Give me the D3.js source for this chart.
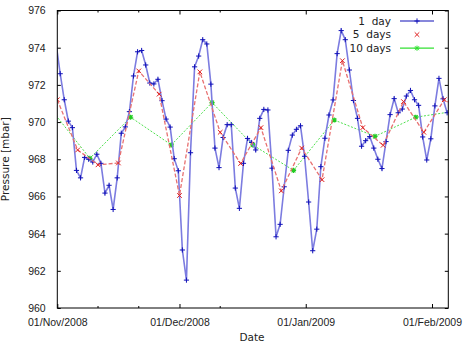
<!DOCTYPE html>
<html>
<head>
<meta charset="utf-8">
<script src="https://cdnjs.cloudflare.com/ajax/libs/d3/7.8.5/d3.min.js"></script>
<style>
  html, body { margin: 0; padding: 0; background: #fff; }
  svg { display: block; font-family: 'DejaVu Sans', sans-serif; }
  .tick text { fill: #222; font-size: 10.5px; }
</style>
</head>
<body>
<svg id="chart" width="463" height="344"></svg>
<script>
(function () {
  'use strict';

  // daily readings (first one is just before the axis start, clipped)
  const oneDayStart = new Date(2008, 9, 31, 17);
  const oneDayValues = [
    974.2, 972.6, 971.2, 970.05, 969.7, 967.4, 967.0, 968.1, 968.0, 967.85,
    968.27, 967.78, 966.18, 966.6, 965.3, 967.0, 969.4, 969.74, 970.56, 972.48,
    973.78, 973.85, 973.07, 972.1, 972.05, 972.3, 971.15, 970.16, 969.73, 968.03,
    967.38, 963.12, 961.5, 968.35, 972.97, 973.55, 974.43, 974.2, 972.04, 968.6,
    967.55, 969.17, 969.86, 969.86, 966.45, 965.36, 967.78, 969.12, 968.9, 968.5,
    970.2, 970.68, 970.65, 967.52, 963.83, 964.5, 966.52, 968.48, 969.3, 969.61,
    969.8, 968.16, 965.7, 963.08, 964.24, 967.6, 969.13, 970.38, 971.19, 973.68,
    974.92, 974.43, 972.8, 971.16, 970.2, 968.7, 969.0, 969.22, 968.6, 968.0,
    967.5, 968.95, 970.4, 971.26, 970.5, 970.7, 971.4, 971.7, 971.2, 970.9,
    969.2, 967.96, 969.1, 970.87, 972.35, 971.25, 970.5
  ];

  const fiveDayStart = new Date(2008, 10, 1);
  const fiveDayValues = [
    971.2, 968.5, 967.7, 967.8, 972.75, 971.5, 966.05, 972.7, 969.45, 967.77,
    969.7, 966.3, 968.6, 966.9, 973.3, 969.7, 968.75, 971.1, 969.45, 971.2, 970.6
  ];

  const tenDayStart = new Date(2008, 9, 30);
  const tenDayValues = [
    970.82, 968.05, 970.26, 968.77, 971.05, 968.77, 967.4, 970.11, 969.23, 970.26, 970.6
  ];

  const xDomain = [new Date(2008, 10, 1), new Date(2009, 1, 5)];
  const yDomain = [960, 976];
  const yTicks = [960, 962, 964, 966, 968, 970, 972, 974, 976];
  const xMajorTicks = [new Date(2008, 10, 1), new Date(2008, 11, 1), new Date(2009, 0, 1), new Date(2009, 1, 1)];
  const xMinorTicks = [new Date(2008, 10, 11), new Date(2008, 10, 21), new Date(2008, 11, 11)];

  const legendLabels = ['1  day', '5  days', '10 days'];

  const svg = d3.select('#chart');
  const left = 57.3, right = 448.3, top = 10.5, bottom = 308;

  const x = d3.scaleTime().domain(xDomain).range([left, right]);
  const y = d3.scaleLinear().domain(yDomain).range([bottom, top]);

  const toSeries = (start, stepHours, values) =>
    values.map((v, i) => ({ date: d3.timeHour.offset(start, i * stepHours), value: v }));

  const oneDay = toSeries(oneDayStart, 24, oneDayValues);
  const fiveDay = toSeries(fiveDayStart, 120, fiveDayValues);
  const tenDay = toSeries(tenDayStart, 240, tenDayValues);

  const plusPath = (s) => `M${-s},0H${s}M0,${-s}V${s}`;
  const crossPath = (s) => `M${-s},${-s}L${s},${s}M${-s},${s}L${s},${-s}`;
  const starPath = (s) => plusPath(s) + crossPath(s * 0.75);

  svg.append('defs').append('clipPath').attr('id', 'plot-clip')
    .append('rect')
    .attr('x', left).attr('y', top)
    .attr('width', right - left).attr('height', bottom - top);

  // axes: labelled bottom/left, mirrored ticks top/right
  const bottomAxis = d3.axisBottom(x).tickValues(xMajorTicks)
    .tickFormat(d3.timeFormat('%d/%b/%Y'))
    .tickSizeInner(-4).tickSizeOuter(0).tickPadding(10.5);
  const topAxis = d3.axisTop(x).tickValues(xMajorTicks)
    .tickFormat('').tickSizeInner(-4).tickSizeOuter(0);
  const leftAxis = d3.axisLeft(y).tickValues(yTicks)
    .tickFormat(d3.format('d'))
    .tickSizeInner(-3.5).tickSizeOuter(0).tickPadding(11.6);
  const rightAxis = d3.axisRight(y).tickValues(yTicks)
    .tickFormat('').tickSizeInner(-3.5).tickSizeOuter(0);

  const axes = [
    [bottomAxis, `translate(0,${bottom})`],
    [topAxis, `translate(0,${top})`],
    [leftAxis, `translate(${left},0)`],
    [rightAxis, `translate(${right},0)`]
  ];
  axes.forEach(([axis, transform]) => {
    const g = svg.append('g').attr('transform', transform).call(axis);
    g.select('.domain').remove();
    g.selectAll('.tick line').attr('stroke', '#000');
  });

  // minor x ticks
  [[bottom, -2], [top, 2]].forEach(([yPos, len]) => {
    svg.append('g').selectAll('line')
      .data(xMinorTicks)
      .join('line')
      .attr('x1', (d) => x(d)).attr('x2', (d) => x(d))
      .attr('y1', yPos).attr('y2', yPos + len)
      .attr('stroke', '#000');
  });

  const plot = svg.append('g').attr('clip-path', 'url(#plot-clip)');
  const line = d3.line().x((d) => x(d.date)).y((d) => y(d.value));
  const inside = (d) => d.date >= xDomain[0] && d.date <= xDomain[1];

  // 10 days
  plot.append('path').datum(tenDay)
    .attr('d', line).attr('fill', 'none')
    .attr('stroke', '#4ee04e').attr('stroke-width', 1)
    .attr('stroke-dasharray', '2,1.6');
  plot.append('g').selectAll('path')
    .data(tenDay.filter(inside))
    .join('path')
    .attr('transform', (d) => `translate(${x(d.date)},${y(d.value)})`)
    .attr('d', starPath(2.6))
    .attr('stroke', '#22cc22').attr('stroke-width', 1.2);

  // 1 day
  plot.append('path').datum(oneDay)
    .attr('d', line).attr('fill', 'none')
    .attr('stroke', '#7c7ce0').attr('stroke-width', 1.6);
  plot.append('g').selectAll('path')
    .data(oneDay.filter(inside))
    .join('path')
    .attr('transform', (d) => `translate(${x(d.date)},${y(d.value)})`)
    .attr('d', plusPath(2.6))
    .attr('stroke', '#1010b8').attr('stroke-width', 1);

  // 5 days
  plot.append('path').datum(fiveDay)
    .attr('d', line).attr('fill', 'none')
    .attr('stroke', '#e87070').attr('stroke-width', 1.3)
    .attr('stroke-dasharray', '4,2');
  plot.append('g').selectAll('path')
    .data(fiveDay.filter(inside))
    .join('path')
    .attr('transform', (d) => `translate(${x(d.date)},${y(d.value)})`)
    .attr('d', crossPath(2.3))
    .attr('stroke', '#e02020').attr('stroke-width', 1);

  // border
  svg.append('rect')
    .attr('x', left).attr('y', top)
    .attr('width', right - left).attr('height', bottom - top)
    .attr('fill', 'none').attr('stroke', '#000').attr('stroke-width', 1);

  // legend
  const legendStyles = [
    { stroke: '#1010b8', line: true, marker: plusPath(2.6) },
    { stroke: '#e02020', line: false, marker: crossPath(2.3) },
    { stroke: '#33e033', line: true, marker: starPath(2.6) }
  ];
  const legend = svg.append('g');
  legendLabels.forEach((label, i) => {
    const cy = 21 + i * 13.6;
    const style = legendStyles[i];
    legend.append('text')
      .attr('x', 391).attr('y', cy + 3.8)
      .attr('text-anchor', 'end')
      .attr('font-size', 10.5).attr('fill', '#222')
      .attr('xml:space', 'preserve')
      .text(label);
    if (style.line) {
      legend.append('line')
        .attr('x1', 400).attr('x2', 434).attr('y1', cy).attr('y2', cy)
        .attr('stroke', style.stroke).attr('stroke-width', 1.2);
    }
    legend.append('path')
      .attr('transform', `translate(417,${cy})`)
      .attr('d', style.marker)
      .attr('stroke', style.stroke).attr('stroke-width', 1);
  });

  // axis titles
  svg.append('text')
    .attr('x', 252).attr('y', 341)
    .attr('text-anchor', 'middle')
    .attr('font-size', 10.5).attr('fill', '#222')
    .text('Date');
  svg.append('text')
    .attr('transform', `translate(9,${(top + bottom) / 2}) rotate(-90)`)
    .attr('text-anchor', 'middle')
    .attr('font-size', 10.5).attr('fill', '#222')
    .text('Pressure [mbar]');
})();
</script>
</body>
</html>
